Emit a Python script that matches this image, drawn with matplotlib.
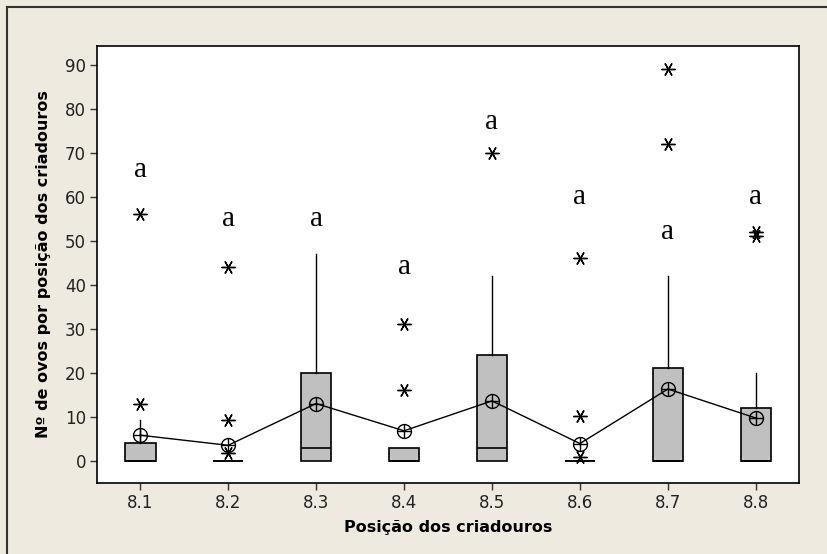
import matplotlib
matplotlib.use("Agg")
import matplotlib.pyplot as plt
from matplotlib.lines import Line2D

# Posições dos criadouros e resumo de cada boxplot
posicoes = ["8.1", "8.2", "8.3", "8.4", "8.5", "8.6", "8.7", "8.8"]
q1 = [0, 0, 0, 0, 0, 0, 0, 0]
mediana = [0, 0, 3, 0, 3, 0, 0, 0]
q3 = [4, 0, 20, 3, 24, 0, 21, 12]
bigode_sup = [9.3, 0, 47, 3, 42, 0, 42, 20]
medias = [5.8, 3.5, 13.0, 6.8, 13.6, 3.9, 16.3, 9.7]
outliers = [[13, 56], [1.8, 9.2, 44], [], [16, 31], [70], [0.9, 10.2, 46], [72, 89], [51, 52]]
# Altura das letras de agrupamento (teste de médias)
letras = ["a", "a", "a", "a", "a", "a", "a", "a"]
letras_y = [66, 55, 55, 44, 77, 60, 52, 60]

fundo = "#EEEAE0"
fig = plt.figure(figsize=(8.27, 5.54), dpi=100, facecolor=fundo)
ax = fig.add_axes([97 / 827, 1 - 483 / 554, (799 - 97) / 827, (483 - 46) / 554])
ax.set_facecolor("white")

x = list(range(1, len(posicoes) + 1))
stats = []
for i in range(len(posicoes)):
    stats.append(dict(med=mediana[i], q1=q1[i], q3=q3[i],
                      whislo=q1[i], whishi=bigode_sup[i], fliers=outliers[i]))

ax.bxp(stats, positions=x, widths=0.35, showcaps=False, patch_artist=True,
       boxprops=dict(facecolor="#C0C0C0", edgecolor="black", linewidth=1.2),
       medianprops=dict(color="black", linewidth=1.2),
       whiskerprops=dict(color="black", linewidth=1),
       flierprops=dict(marker=(6, 2, 90), markersize=10, markeredgecolor="black",
                       markeredgewidth=1, linestyle="none"))

# linha ligando as médias, com símbolo de círculo cruzado
ax.plot(x, medias, color="black", linewidth=1, zorder=4)
ax.plot(x, medias, linestyle="none", marker="o", markersize=10, markerfacecolor="none",
        markeredgecolor="black", markeredgewidth=1, zorder=5)
ax.plot(x, medias, linestyle="none", marker="+", markersize=10,
        markeredgecolor="black", markeredgewidth=1, zorder=5)

for xi, txt, yi in zip(x, letras, letras_y):
    ax.text(xi, yi, txt, ha="center", va="center", fontsize=21,
            family="Liberation Serif", zorder=6)

ax.set_xlim(0.51, 8.49)
ax.set_ylim(-5.07, 94.3)
ax.set_xticks(x)
ax.set_xticklabels(posicoes)
ax.set_yticks(range(0, 91, 10))
ax.tick_params(axis="both", labelsize=12, length=5, width=1, color="#333333",
               labelcolor="#222222", pad=3)
for lado in ax.spines:
    ax.spines[lado].set_linewidth(1.2)

ax.set_xlabel("Posição dos criadouros", fontsize=11.5, fontweight="bold", labelpad=6)
ax.set_ylabel("Nº de ovos por posição dos criadouros", fontsize=11.5, fontweight="bold",
              labelpad=10)

# borda externa da janela (lados superior e esquerdo)
fig.add_artist(Line2D([7 / 827, 7 / 827], [0, 1 - 7 / 554], color="#333333",
                      linewidth=1.5, transform=fig.transFigure))
fig.add_artist(Line2D([7 / 827, 1], [1 - 7 / 554, 1 - 7 / 554], color="#333333",
                      linewidth=1.5, transform=fig.transFigure))

fig.savefig("out.png", dpi=100, facecolor=fundo)
